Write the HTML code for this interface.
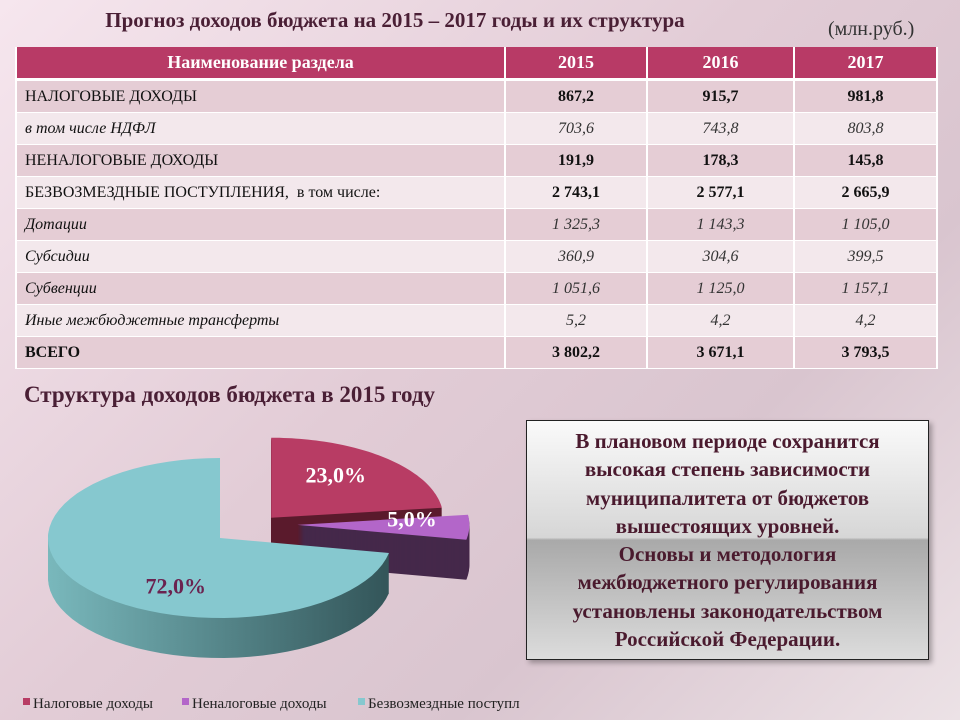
<!DOCTYPE html>
<html><head><meta charset="utf-8"><style>
body{margin:0;width:960px;height:720px;overflow:hidden;background:linear-gradient(135deg,#f6e6ee 0%,#e2ccd6 45%,#d9c5cf 70%,#ece2e6 100%);font-family:"Liberation Serif",serif;position:relative}
.title{position:absolute;left:0;width:790px;top:8px;text-align:center;font-weight:bold;font-size:21px;color:#4a1f35}
.unit{position:absolute;left:828px;top:18px;font-size:20px;color:#333}
table{position:absolute;left:15px;top:47px;width:923px;border-collapse:collapse;font-size:16px;color:#111}
td,th{height:31px;padding:0;border:2px solid #fff;border-top:0;border-bottom:1px solid #fff}
th{background:#b83a66;color:#fff;font-size:18px;height:31px;border-bottom:3px solid #fff}
td{text-align:center}
td:first-child{text-align:left;padding-left:8px}
tr.a td{background:#e5cdd5}tr.b td{background:#f3e8ec}
.bo td{font-weight:bold}.it td{font-style:italic}
.it td:not(:first-child),.tt{color:#333}
.sub{position:absolute;left:24px;top:382px;font-weight:bold;font-size:23px;color:#4a1f35}
.box{position:absolute;left:526px;top:420px;width:403px;height:240px;border:1px solid #222;background:linear-gradient(#fafafa 0%,#d6d6d6 49%,#a9a9a9 50%,#dcdcdc 100%);text-align:center;font-weight:bold;font-size:21px;line-height:28.3px;color:#4a1a2e;box-shadow:3px 3px 5px rgba(0,0,0,.3);padding-top:6px;box-sizing:border-box}
</style></head><body>
<div class="title">Прогноз доходов бюджета на 2015 – 2017 годы и их структура</div>
<div class="unit">(млн.руб.)</div>
<table>
<tr><th style="width:487px">Наименование раздела</th><th style="width:140px">2015</th><th style="width:145px">2016</th><th>2017</th></tr>
<tr class="a"><td>НАЛОГОВЫЕ ДОХОДЫ</td><td><b>867,2</b></td><td><b>915,7</b></td><td><b>981,8</b></td></tr>
<tr class="b it"><td>в том числе НДФЛ</td><td>703,6</td><td>743,8</td><td>803,8</td></tr>
<tr class="a"><td>НЕНАЛОГОВЫЕ ДОХОДЫ</td><td><b>191,9</b></td><td><b>178,3</b></td><td><b>145,8</b></td></tr>
<tr class="b"><td>БЕЗВОЗМЕЗДНЫЕ ПОСТУПЛЕНИЯ,&nbsp; в том числе:</td><td><b>2 743,1</b></td><td><b>2 577,1</b></td><td><b>2 665,9</b></td></tr>
<tr class="a it"><td>Дотации</td><td>1 325,3</td><td>1 143,3</td><td>1 105,0</td></tr>
<tr class="b it"><td>Субсидии</td><td>360,9</td><td>304,6</td><td>399,5</td></tr>
<tr class="a it"><td>Субвенции</td><td>1 051,6</td><td>1 125,0</td><td>1 157,1</td></tr>
<tr class="b it"><td>Иные межбюджетные трансферты</td><td>5,2</td><td>4,2</td><td>4,2</td></tr>
<tr class="a bo"><td>ВСЕГО</td><td>3 802,2</td><td>3 671,1</td><td>3 793,5</td></tr>
</table>
<div class="sub">Структура доходов бюджета в 2015 году</div>
<svg id="pie" width="520" height="310" style="position:absolute;left:0;top:410px">
<defs><linearGradient id="cy" x1="0" x2="1"><stop offset="0" stop-color="#79b8bc"/><stop offset="1" stop-color="#335559"/></linearGradient></defs>
</svg>
<div class="box">В плановом периоде сохранится<br>высокая степень зависимости<br>муниципалитета от бюджетов<br>вышестоящих уровней.<br>Основы и методология<br>межбюджетного регулирования<br>установлены законодательством<br>Российской Федерации.</div>
<script>
const categories=["Налоговые доходы","Неналоговые доходы","Безвозмездные поступления"];
const shares=[23.0,5.0,72.0];
const labels=["23,0%","5,0%","72,0%"];
const topColors=["#b83c64","#b366c9","#86c8cf"];
const sideColors=["#5a1a2c","#45284a","url(#cy)"];
const labelColors=["#fff","#fff","#6b2350"];
const explode=[0.45,0.45,0];
const NS="http://www.w3.org/2000/svg";
const svg=document.getElementById('pie');
const cx=220,cy=128,rx=172,ry=80,depth=40;
const total=shares.reduce((a,b)=>a+b,0);
function pt(a,ox,oy,dy){return [ox+rx*Math.sin(a),oy-ry*Math.cos(a)+dy];}
function slicePath(a0,a1,ox,oy,dy){
  let d=`M${ox},${oy+dy}`;const n=60;
  for(let i=0;i<=n;i++){const p=pt(a0+(a1-a0)*i/n,ox,oy,dy);d+=`L${p[0].toFixed(1)},${p[1].toFixed(1)}`;}
  return d+'Z';
}
let acc=0;const sl=[];
shares.forEach((v,i)=>{const a0=acc/total*2*Math.PI;acc+=v;const a1=acc/total*2*Math.PI;const m=(a0+a1)/2;
  sl.push({a0,a1,ox:cx+explode[i]*rx*Math.sin(m),oy:cy-explode[i]*ry*Math.cos(m)*0.75-(i==1?14:0)});});
sl.forEach((s,i)=>{const g=document.createElementNS(NS,'g');
  
  
  for(let d=depth;d>0;d-=1){const p=document.createElementNS(NS,'path');p.setAttribute('d',slicePath(s.a0,s.a1,s.ox,s.oy,d));p.setAttribute('fill',sideColors[i]);g.appendChild(p);}
  svg.appendChild(g);});
const lblOff=[[-6,-6],[8,-8],[22,22]];
sl.forEach((s,i)=>{const p=document.createElementNS(NS,'path');p.setAttribute('d',slicePath(s.a0,s.a1,s.ox,s.oy,0));p.setAttribute('fill',topColors[i]);
  
  
  svg.appendChild(p);
  const m=(s.a0+s.a1)/2;const t=document.createElementNS(NS,'text');
  const f=i==2?0.5:0.62;
  t.setAttribute('x',s.ox+rx*f*Math.sin(m)+lblOff[i][0]);t.setAttribute('y',s.oy-ry*f*Math.cos(m)+8+lblOff[i][1]);
  t.setAttribute('text-anchor','middle');t.setAttribute('font-size','22');t.setAttribute('font-weight','bold');t.setAttribute('fill',labelColors[i]);
  t.setAttribute('font-family','Liberation Serif, serif');t.textContent=labels[i];
  
  
  svg.appendChild(t);});
const lx=[23,182,358];
categories.forEach((c,i)=>{const r=document.createElementNS(NS,'rect');r.setAttribute('x',lx[i]);r.setAttribute('y',288);r.setAttribute('width',7);r.setAttribute('height',7);r.setAttribute('fill',topColors[i]);
  
  
  svg.appendChild(r);
  const t=document.createElementNS(NS,'text');t.setAttribute('x',lx[i]+10);t.setAttribute('y',298);t.setAttribute('font-size','15');t.setAttribute('fill','#222');t.setAttribute('font-family','Liberation Serif, serif');t.textContent=c;
  
  
  svg.appendChild(t);});
</script>
</body></html>
